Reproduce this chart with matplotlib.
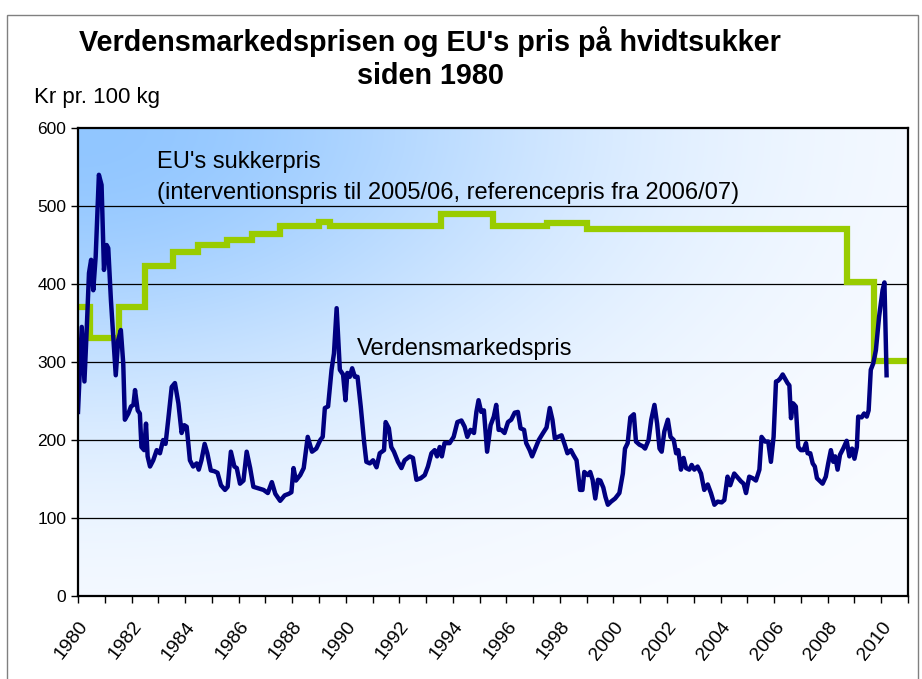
import numpy as np
import matplotlib
matplotlib.use("Agg")
import matplotlib.pyplot as plt
from matplotlib.patches import Rectangle

plt.rcParams['font.family'] = ['Liberation Sans', 'DejaVu Sans']

# EU price: level changes (year the level starts, level)
eu_years = [1980.0, 1980.45, 1981.53, 1982.5, 1983.53, 1984.5, 1985.55, 1986.5,
            1987.54, 1989.0, 1989.4, 1993.55, 1995.5, 1997.5, 1999.0, 2008.74,
            2009.74, 2011.0]
eu_vals = [371, 331, 370, 423, 441, 450, 457, 464, 474, 480, 475, 490, 474, 478,
           470, 403, 301, 301]

# world market price
wm_years = [
    1980.00, 1980.14, 1980.24, 1980.32, 1980.41, 1980.49, 1980.57, 1980.66, 1980.78, 1980.88,
    1980.97, 1981.07, 1981.13, 1981.23, 1981.36, 1981.41, 1981.50, 1981.60, 1981.69, 1981.75,
    1981.88, 1981.98, 1982.07, 1982.13, 1982.23, 1982.31, 1982.37, 1982.47, 1982.54, 1982.60,
    1982.69, 1982.81, 1982.94, 1983.06, 1983.18, 1983.27, 1983.37, 1983.50, 1983.62, 1983.75,
    1983.87, 1983.97, 1984.06, 1984.18, 1984.30, 1984.43, 1984.51, 1984.61, 1984.73, 1984.83,
    1984.96, 1985.09, 1985.21, 1985.34, 1985.49, 1985.59, 1985.71, 1985.84, 1985.93, 1986.05,
    1986.18, 1986.30, 1986.43, 1986.55, 1986.74, 1986.93, 1987.09, 1987.24, 1987.37, 1987.55,
    1987.72, 1987.87, 1987.97, 1988.05, 1988.14, 1988.30, 1988.43, 1988.58, 1988.74, 1988.90,
    1989.05, 1989.14, 1989.22, 1989.34, 1989.47, 1989.56, 1989.66, 1989.78, 1989.90, 1989.99,
    1990.06, 1990.15, 1990.24, 1990.34, 1990.44, 1990.56, 1990.69, 1990.77, 1990.90, 1991.02,
    1991.15, 1991.27, 1991.43, 1991.49, 1991.61, 1991.70, 1991.80, 1991.95, 1992.08, 1992.20,
    1992.39, 1992.51, 1992.64, 1992.80, 1992.95, 1993.07, 1993.20, 1993.32, 1993.41, 1993.51,
    1993.59, 1993.69, 1993.88, 1994.03, 1994.17, 1994.32, 1994.44, 1994.54, 1994.66, 1994.79,
    1994.88, 1994.96, 1995.06, 1995.16, 1995.28, 1995.41, 1995.53, 1995.62, 1995.71, 1995.81,
    1995.93, 1996.06, 1996.18, 1996.31, 1996.43, 1996.53, 1996.66, 1996.74, 1996.87, 1996.96,
    1997.08, 1997.21, 1997.37, 1997.50, 1997.62, 1997.72, 1997.81, 1997.93, 1998.06, 1998.18,
    1998.28, 1998.41, 1998.50, 1998.62, 1998.75, 1998.84, 1998.91, 1999.04, 1999.13, 1999.22,
    1999.32, 1999.42, 1999.51, 1999.62, 1999.70, 1999.79, 1999.91, 2000.06, 2000.22, 2000.35,
    2000.43, 2000.53, 2000.63, 2000.76, 2000.84, 2000.97, 2001.09, 2001.18, 2001.31, 2001.41,
    2001.53, 2001.63, 2001.72, 2001.80, 2001.90, 2002.03, 2002.13, 2002.25, 2002.34, 2002.42,
    2002.52, 2002.62, 2002.71, 2002.83, 2002.92, 2003.02, 2003.14, 2003.27, 2003.39, 2003.52,
    2003.64, 2003.77, 2003.89, 2004.04, 2004.14, 2004.26, 2004.36, 2004.51, 2004.66, 2004.76,
    2004.86, 2004.95, 2005.07, 2005.20, 2005.32, 2005.45, 2005.53, 2005.66, 2005.78, 2005.88,
    2005.98, 2006.07, 2006.15, 2006.23, 2006.32, 2006.40, 2006.50, 2006.57, 2006.63, 2006.71,
    2006.81, 2006.90, 2007.00, 2007.10, 2007.19, 2007.25, 2007.35, 2007.44, 2007.52, 2007.60,
    2007.69, 2007.81, 2007.93, 2008.02, 2008.12, 2008.21, 2008.28, 2008.37, 2008.46, 2008.58,
    2008.71, 2008.81, 2008.91, 2009.00, 2009.09, 2009.14, 2009.27, 2009.36, 2009.46, 2009.53,
    2009.61, 2009.70, 2009.80, 2009.92, 2010.05, 2010.12, 2010.20]
wm_vals = [
    236, 345, 275, 337, 414, 431, 392, 435, 540, 527,
    418, 450, 446, 379, 311, 283, 328, 341, 298, 226,
    234, 243, 245, 264, 238, 234, 191, 187, 221, 179,
    166, 174, 187, 183, 200, 195, 226, 268, 273, 247,
    209, 219, 217, 174, 166, 170, 162, 174, 195, 183,
    161, 160, 158, 142, 136, 140, 185, 166, 164, 144,
    148, 185, 164, 140, 138, 136, 132, 146, 131, 122,
    129, 131, 133, 164, 148, 155, 164, 204, 185, 189,
    200, 204, 241, 243, 290, 311, 369, 290, 284, 251,
    286, 281, 292, 281, 281, 243, 196, 172, 170, 174,
    165, 183, 187, 223, 215, 191, 185, 172, 164, 174,
    179, 177, 149, 151, 155, 166, 183, 187, 179, 191,
    179, 196, 196, 204, 223, 225, 217, 204, 213, 209,
    236, 251, 236, 238, 185, 219, 230, 245, 213, 213,
    209, 223, 226, 235, 236, 215, 213, 196, 187, 179,
    189, 200, 209, 216, 241, 226, 202, 204, 206, 194,
    183, 187, 181, 174, 136, 136, 159, 155, 159, 149,
    125, 149, 148, 139, 127, 117, 121, 125, 132, 157,
    189, 196, 229, 233, 198, 194, 192, 189, 200, 226,
    245, 221, 189, 185, 211, 226, 204, 200, 183, 187,
    162, 177, 164, 162, 168, 162, 166, 157, 136, 143,
    132, 117, 121, 120, 123, 153, 142, 157, 151, 147,
    144, 132, 153, 151, 148, 162, 204, 198, 198, 172,
    204, 275, 276, 279, 284, 279, 273, 270, 228, 247,
    243, 191, 187, 187, 196, 183, 183, 170, 166, 151,
    148, 144, 153, 170, 187, 172, 179, 162, 181, 189,
    199, 179, 189, 176, 191, 230, 229, 234, 230, 238,
    290, 298, 315, 358, 392, 402, 283]

tick_years = list(range(1980, 2011, 2))
y_ticks = [0, 100, 200, 300, 400, 500, 600]

fig = plt.figure(figsize=(9.22, 6.79), dpi=100)
ax = fig.add_axes([78 / 922, 1 - 596 / 679, 830 / 922, 468 / 679])

# gradient background, blue in the top-left corner fading to white
u = np.linspace(0, 1, 300)[None, :]
w = np.linspace(0, 1, 200)[:, None]
f = np.exp(-(u ** 2 + w ** 2) / 0.36)
blue = np.array([145, 198, 255]) / 255
white = np.array([250, 252, 255]) / 255
img = white + (blue - white) * f[..., None]
ax.imshow(img, extent=[1980, 2011, 0, 600], origin='upper', aspect='auto',
          zorder=0, interpolation='bilinear')
ax.set_ylim(0, 600)
ax.set_xlim(1980, 2011)

for y in y_ticks[1:-1]:
    ax.axhline(y, color='black', lw=0.9, zorder=1)

ax.plot(eu_years, eu_vals, drawstyle='steps-post', color='#99CC00', lw=4.5,
        zorder=3, solid_joinstyle='miter')
ax.plot(wm_years, wm_vals, color='#000080', lw=3.2, zorder=4)

ax.text(1982.95, 556, "EU's sukkerpris", fontsize=17, va='center', ha='left', zorder=5)
ax.text(1982.95, 517, "(interventionspris til 2005/06, referencepris fra 2006/07)",
        fontsize=17, va='center', ha='left', zorder=5)
ax.text(1990.41, 317, "Verdensmarkedspris", fontsize=17, va='center', ha='left', zorder=5)

ax.set_yticks(y_ticks)
ax.set_xticks(tick_years)
ax.set_xticklabels([str(y) for y in tick_years], rotation=52, ha='right',
                   va='top', rotation_mode='anchor')
ax.set_xticks(range(1980, 2012), minor=True)
ax.tick_params(axis='both', which='both', direction='out', length=5, width=1)
ax.tick_params(axis='y', labelsize=12.5)
ax.tick_params(axis='x', which='major', labelsize=14, pad=11)
for s in ax.spines.values():
    s.set_linewidth(1.6)
    s.set_zorder(6)

fig.text(430 / 922, 1 - 42 / 679, "Verdensmarkedsprisen og EU's pris på hvidtsukker",
         fontsize=20.7, fontweight='bold', ha='center', va='center')
fig.text(430 / 922, 1 - 76 / 679, "siden 1980", fontsize=20.7, fontweight='bold',
         ha='center', va='center')
fig.text(34 / 922, 1 - 98 / 679, "Kr pr. 100 kg", fontsize=16, ha='left', va='center')

fig.patches.append(Rectangle((7 / 922, -0.05), 911 / 922, 1.05 - 15 / 679,
                             transform=fig.transFigure, fill=False,
                             edgecolor='#808080', lw=1))

fig.savefig('out.png', dpi=100)
